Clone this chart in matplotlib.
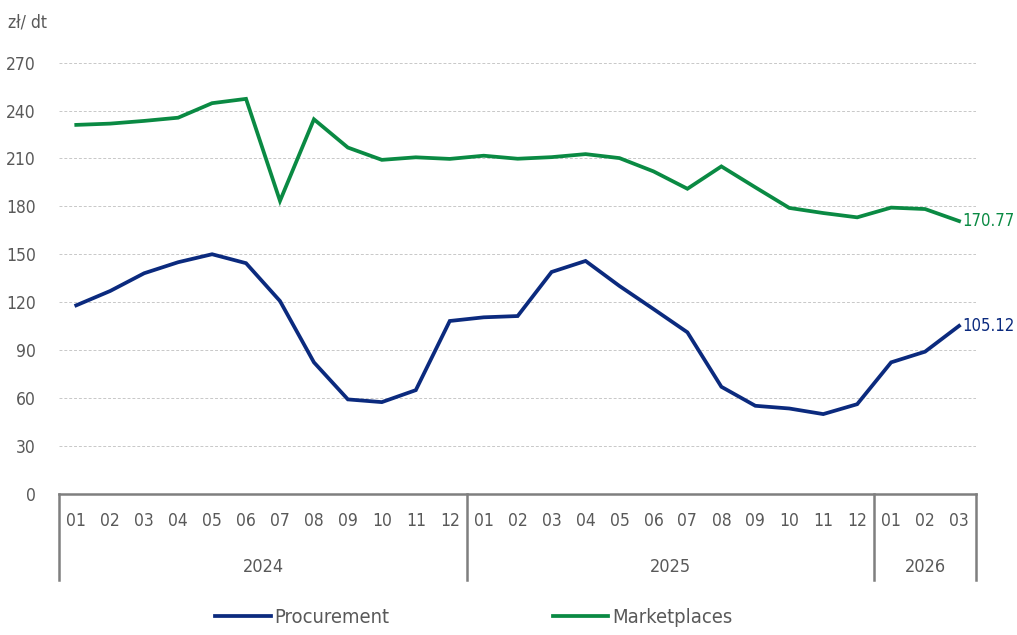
import matplotlib.pyplot as plt
from matplotlib.lines import Line2D
import matplotlib.transforms as mtransforms

plt.rcParams['font.family'] = ['DejaVu Sans']
plt.rcParams['font.stretch'] = 'condensed'

months = ['01', '02', '03', '04', '05', '06', '07', '08', '09', '10', '11', '12',
          '01', '02', '03', '04', '05', '06', '07', '08', '09', '10', '11', '12',
          '01', '02', '03']
years = ['2024', '2025', '2026']
year_lengths = [12, 12, 3]

procurement = [118.0, 127.0, 138.1, 145.0, 150.0, 144.4, 120.7, 82.3, 59.1, 57.4, 64.9, 108.2,
               110.5, 111.3, 138.9, 145.8, 130.1, 115.7, 101.1, 67.0, 55.1, 53.4, 49.9, 56.1,
               82.3, 89.0, 105.12]
marketplaces = [231.0, 231.8, 233.5, 235.5, 244.6, 247.3, 183.4, 234.5, 216.8, 209.1, 210.7, 209.7,
                211.7, 209.8, 210.8, 212.7, 210.2, 201.9, 191.0, 205.0, 191.9, 179.0, 175.8, 173.1,
                179.2, 178.3, 170.77]

navy = '#0b2a7e'
green = '#0a8a43'
grey_txt = '#595959'

fig = plt.figure(figsize=(10.17, 6.35), dpi=100)
ax = fig.add_axes([0.0583, 0.2224, 0.9014, 0.679])

x = list(range(len(months)))
ax.plot(x, procurement, color=navy, lw=2.7, solid_joinstyle='miter')
ax.plot(x, marketplaces, color=green, lw=2.7, solid_joinstyle='miter')

# end-of-series labels
ax.text(x[-1] + 0.1, procurement[-1], f'{procurement[-1]:.2f}', color=navy,
        fontsize=12, va='center', ha='left')
ax.text(x[-1] + 0.1, marketplaces[-1], f'{marketplaces[-1]:.2f}', color=green,
        fontsize=12, va='center', ha='left')

ax.set_xlim(-0.5, len(months) - 0.5)
ax.set_ylim(0, 270)
ax.set_yticks(range(0, 271, 30))
ax.yaxis.grid(True, color='#c8c8c8', ls=(0, (3, 2)), lw=0.7)
ax.set_axisbelow(True)
for s in ['top', 'right', 'left']:
    ax.spines[s].set_visible(False)
ax.spines['bottom'].set_color('#7f7f7f')
ax.spines['bottom'].set_linewidth(1.8)
ax.tick_params(axis='y', length=0, pad=17, labelsize=12.5, labelcolor=grey_txt)
ax.tick_params(axis='x', length=0, pad=13, labelsize=12.5, labelcolor=grey_txt)
ax.set_xticks(x)
ax.set_xticklabels(months)

# year groups and separators
trans = mtransforms.blended_transform_factory(ax.transData, ax.transAxes)
bounds = [-0.5]
for n in year_lengths:
    bounds.append(bounds[-1] + n)
for b in bounds:
    ax.plot([b, b], [0, -0.2], transform=trans, color='#7f7f7f', lw=1.8, clip_on=False)
for i, yr in enumerate(years):
    ax.text((bounds[i] + bounds[i + 1]) / 2, -0.17, yr, transform=trans,
            ha='center', va='center', fontsize=13, color=grey_txt)

fig.text(0.008, 0.965, 'zł/ dt', fontsize=12.5, color=grey_txt, va='center')

handles = [Line2D([], [], color=navy, lw=2.7), Line2D([], [], color=green, lw=2.7)]
fig.legend(handles, ['Procurement', 'Marketplaces'], loc='center', bbox_to_anchor=(0.466, 0.027),
           ncol=2, frameon=False, fontsize=14.5, labelcolor=grey_txt, handlelength=2.75,
           handletextpad=0.2, columnspacing=8.1)

fig.savefig('out.png', dpi=100)
